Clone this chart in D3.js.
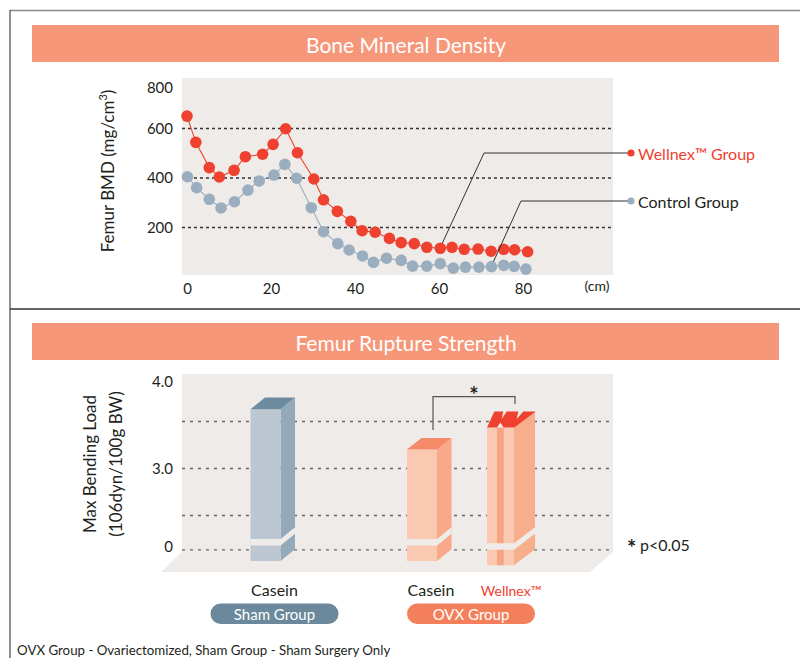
<!DOCTYPE html>
<html>
<head>
<meta charset="utf-8">
<script src="https://cdn.jsdelivr.net/npm/d3@7"></script>
<style>
    body { margin: 0; background: #fff; }
    svg { display: block; font-family: Lato, "Noto Sans", sans-serif; }
</style>
</head>
<body>
<svg id="chart" width="800" height="658"></svg>
<script>
// Bone mineral density along the femur (cm)
const wellnexCm = [0, 2.1, 5.3, 7.7, 11.2, 13.9, 18.0, 20.5, 23.5, 26.3, 30.2, 32.5, 35.8, 39.0, 41.7, 44.8, 48.2, 51.0, 54.1, 57.1, 60.3, 63.1, 66.0, 69.3, 72.4, 75.4, 78.0, 81.1];
const wellnexBmd = [648, 542, 440, 402, 429, 484, 494, 534, 597, 500, 394, 310, 263, 223, 185, 179, 154, 137, 133, 118, 114, 118, 110, 111, 102, 110, 108, 100];
const controlCm = [0.1, 2.3, 5.3, 8.1, 11.3, 14.5, 17.2, 20.7, 23.3, 26.1, 29.6, 32.5, 35.9, 38.6, 41.8, 44.4, 47.5, 51.0, 53.7, 57.1, 60.3, 63.4, 66.3, 69.5, 72.5, 75.4, 77.9, 80.7];
const controlBmd = [403, 359, 312, 277, 302, 349, 386, 410, 453, 397, 278, 181, 133, 107, 83, 57, 74, 65, 42, 42, 52, 34, 38, 38, 40, 45, 41, 30];
const bmdTicks = [200, 400, 600, 800];
const cmTicks = [0, 20, 40, 60, 80];

// Femur rupture strength
const barGroups = ["Sham Group", "OVX Group", "OVX Group"];
const barLabels = ["Casein", "Casein", "Wellnex™"];
const bendingLoad = [3.75, 3.32, 3.6];
const loadTicks = [0, 3, 4];
const loadGrid = [0, 2.5, 3, 3.5];

const RED = "#ee4130";
const GRAY = "#9aaebf";
const INK = "#231f20";
const BANNER = "#f7977a";
const PANEL = "#efebe8";

let svg = d3.select("#chart");

// frame lines
svg.append("line").attr("x1", 10).attr("x2", 800).attr("y1", 10.5).attr("y2", 10.5)
    .attr("stroke", "#8a8a8a").attr("stroke-width", 1.5);
svg.append("line").attr("x1", 10).attr("x2", 10).attr("y1", 10).attr("y2", 658)
    .attr("stroke", "#444").attr("stroke-width", 1.2);
svg.append("line").attr("x1", 10).attr("x2", 800).attr("y1", 309).attr("y2", 309)
    .attr("stroke", "#333").attr("stroke-width", 1.5);

function banner(y, label) {
    svg.append("rect").attr("x", 32).attr("y", y).attr("width", 747).attr("height", 37).attr("fill", BANNER);
    svg.append("text").attr("x", 406).attr("y", y + 19).attr("text-anchor", "middle")
        .attr("dominant-baseline", "central").attr("fill", "#fff").attr("font-size", 21)
        .text(label);
}
banner(25, "Bone Mineral Density");
banner(323, "Femur Rupture Strength");

// ---------- top chart: BMD ----------
let x = d3.scaleLinear().domain([0, 100]).range([187, 607]);
let y = d3.scaleLinear().domain([0, 800]).range([276.5, 78.5]);

svg.append("rect").attr("x", 182).attr("y", 78).attr("width", 431).attr("height", 197).attr("fill", PANEL);

let gridTop = svg.append("g").attr("transform", "translate(182,0)")
    .call(d3.axisLeft(y).tickValues([200, 400, 600]).tickSize(-431).tickFormat(""));
gridTop.select(".domain").remove();
gridTop.selectAll("line").attr("stroke", "#333").attr("stroke-width", 1.3).attr("stroke-dasharray", "3,3");

let yAxisTop = svg.append("g").attr("transform", "translate(175,0)")
    .call(d3.axisLeft(y).tickValues(bmdTicks).tickSize(0).tickPadding(2));
yAxisTop.select(".domain").remove();
yAxisTop.selectAll("text").attr("font-size", 15).attr("fill", INK).attr("font-family", "Lato")
    .attr("dy", d => d === 800 ? "0.95em" : "0.35em");

let xAxisTop = svg.append("g").attr("transform", "translate(0,283)")
    .call(d3.axisBottom(x).tickValues(cmTicks).tickSize(0).tickPadding(0));
xAxisTop.select(".domain").remove();
xAxisTop.selectAll("text").attr("font-size", 15).attr("fill", INK).attr("font-family", "Lato");

svg.append("text").attr("x", 597).attr("y", 291).attr("text-anchor", "middle")
    .attr("font-size", 14).attr("fill", INK).text("(cm)");

let yTitle = svg.append("text").attr("transform", "translate(114,171) rotate(-90)")
    .attr("text-anchor", "middle").attr("font-size", 17).attr("fill", INK);
yTitle.append("tspan").text("Femur BMD (mg/cm");
yTitle.append("tspan").attr("font-size", 11).attr("dy", -7).text("3");
yTitle.append("tspan").attr("dy", 7).text(")");

function drawSeries(xs, ys, color) {
    let pts = xs.map((d, i) => [d, ys[i]]);
    let line = d3.line().x(d => x(d[0])).y(d => y(d[1]));
    svg.append("path").datum(pts).attr("d", line).attr("fill", "none")
        .attr("stroke", color).attr("stroke-width", 1.1);
    svg.append("g").selectAll("circle").data(pts).join("circle")
        .attr("cx", d => x(d[0])).attr("cy", d => y(d[1])).attr("r", 5.8).attr("fill", color);
    return pts;
}
let controlPts = drawSeries(controlCm, controlBmd, GRAY);
let wellnexPts = drawSeries(wellnexCm, wellnexBmd, RED);

// leader lines to the legend
function leader(pt, legendY, elbowX, color, label, textColor) {
    let px = x(pt[0]) + 2, py = y(pt[1]) - 5;
    svg.append("path").attr("d", `M${px},${py}L${elbowX},${legendY}L630,${legendY}`)
        .attr("fill", "none").attr("stroke", "#333").attr("stroke-width", 1);
    svg.append("circle").attr("cx", 631).attr("cy", legendY).attr("r", 3.6).attr("fill", color);
    svg.append("text").attr("x", 638).attr("y", legendY).attr("dominant-baseline", "central")
        .attr("font-size", 16).attr("fill", textColor).text(label);
}
leader(wellnexPts[20], 153, 484, RED, "Wellnex™ Group", RED);
leader(controlPts[24], 201, 521, GRAY, "Control Group", INK);

// ---------- bottom chart: rupture strength ----------
let yb = d3.scaleLinear().domain([0, 2.3, 4]).range([549.3, 533.8, 374]);
let groupX = d3.scalePoint().domain(["Sham Group", "OVX Group"]).range([274.5, 471]);

function memberX(i) {
    let members = barLabels.filter((d, j) => barGroups[j] === barGroups[i]);
    let inner = d3.scalePoint().domain(members).range([-40, 40]);
    return groupX(barGroups[i]) + inner(barLabels[i]);
}

svg.append("path").attr("d", "M182,374H613V552L590,572H161L182,552Z").attr("fill", PANEL);

let gridBottom = svg.append("g").attr("transform", "translate(182,0)")
    .call(d3.axisLeft(yb).tickValues(loadGrid).tickSize(-431).tickFormat(""));
gridBottom.select(".domain").remove();
gridBottom.selectAll("line").attr("stroke", "#666").attr("stroke-width", 1.3).attr("stroke-dasharray", "3,5");

let yAxisBottom = svg.append("g").attr("transform", "translate(175,0)")
    .call(d3.axisLeft(yb).tickValues(loadTicks).tickSize(0).tickPadding(2)
        .tickFormat(d => d === 0 ? "0" : d3.format(".1f")(d)));
yAxisBottom.select(".domain").remove();
yAxisBottom.selectAll("text").attr("font-size", 15).attr("fill", INK).attr("font-family", "Lato")
    .attr("dy", d => d === 4 ? "0.85em" : d === 0 ? "0.15em" : "0.35em");

svg.append("text").attr("transform", "translate(96,464) rotate(-90)").attr("text-anchor", "middle")
    .attr("font-size", 17).attr("fill", INK).text("Max Bending Load");
svg.append("text").attr("transform", "translate(122,464) rotate(-90)").attr("text-anchor", "middle")
    .attr("font-size", 17).attr("fill", INK).text("(106dyn/100g BW)");

const barStyles = [
    { front: "#bcc7d1", side: "#94a9ba", top: "#6c8aa0" },
    { front: "#fbc9b2", side: "#f7a98a", top: "#f58a68" },
    { front: "#fbc9b2", side: "#f7ae8d", top: RED }
];
let bars = svg.append("g");
let base = yb(0), brk = yb(2.3);

bendingLoad.forEach((v, i) => {
    let st = barStyles[i];
    let isW = i === 2;
    let dx = isW ? 21 : 14.5, dy = isW ? 16 : 11.7;
    let w = isW ? 27 : 30;
    let fx = memberX(i) - 24;
    let top = yb(v) + dy, bot = base + dy;
    let g = bars.append("g");
    // side face
    g.append("path").attr("d", `M${fx + w},${top}L${fx + w + dx},${top - dy}L${fx + w + dx},${bot - dy}L${fx + w},${bot}Z`)
        .attr("fill", st.side);
    if (isW) {
        // two strips with a darker gap
        g.append("rect").attr("x", fx + 10).attr("y", top).attr("width", 7).attr("height", bot - top).attr("fill", "#f5a584");
        g.append("rect").attr("x", fx).attr("y", top).attr("width", 10).attr("height", bot - top).attr("fill", st.front);
        g.append("rect").attr("x", fx + 16.7).attr("y", top).attr("width", w - 16.7).attr("height", bot - top).attr("fill", st.front);
        let wPts = [[0, 0], [7.3, -16], [16.3, -16], [14.7, -8.7], [19.7, -16], [31.3, -16], [29.7, -8.7],
            [36.3, -16], [48.7, -16], [27.3, 0], [16.7, 0], [13.3, -5], [10, 0]];
        g.append("path").attr("d", d3.line()(wPts.map(p => [fx + p[0], top + p[1]])) + "Z").attr("fill", st.top);
    } else {
        g.append("rect").attr("x", fx).attr("y", top).attr("width", w).attr("height", bot - top).attr("fill", st.front);
        g.append("path").attr("d", `M${fx},${top}L${fx + dx},${top - dy}L${fx + w + dx},${top - dy}L${fx + w},${top}Z`)
            .attr("fill", st.top);
    }
    // axis break band
    let b0 = brk + dy, b1 = brk + dy - 6.5;
    g.append("path").attr("d", `M${fx},${b0}L${fx + w},${b0}L${fx + w + dx},${b0 - dy}L${fx + w + dx},${b1 - dy}L${fx + w},${b1}L${fx},${b1}Z`)
        .attr("fill", PANEL);
});

// significance bracket
let lx = memberX(1) + 2, rx = memberX(2) + 4;
let bracketTop = yb(d3.max(bendingLoad.slice(1))) - 15;
svg.append("path").attr("d", `M${lx},${yb(bendingLoad[1]) - 8}V${bracketTop}H${rx}V${yb(bendingLoad[2]) - 7.5}`)
    .attr("fill", "none").attr("stroke", "#555").attr("stroke-width", 1.2);
svg.append("text").attr("x", (lx + rx) / 2).attr("y", bracketTop + 6).attr("text-anchor", "middle")
    .attr("font-size", 22).attr("font-weight", "bold").attr("fill", INK).text("*");

svg.append("text").attr("x", 627).attr("y", 556).attr("font-size", 22).attr("font-weight", "bold")
    .attr("fill", INK).text("*");
svg.append("text").attr("x", 640).attr("y", 551).attr("font-size", 16).attr("fill", INK).text("p<0.05");

// category labels and group pills
svg.append("g").selectAll("text").data(barLabels).join("text")
    .attr("x", (d, i) => memberX(i)).attr("y", 596).attr("text-anchor", "middle")
    .attr("font-size", (d, i) => i === 2 ? 14 : 16)
    .attr("fill", (d, i) => i === 2 ? RED : INK).text(d => d);

const pillColors = { "Sham Group": "#6b889c", "OVX Group": "#f47f5b" };
let pills = svg.append("g").selectAll("g").data(groupX.domain()).join("g");
pills.append("rect").attr("x", d => groupX(d) - 64).attr("y", 603.5).attr("width", 128).attr("height", 20.5)
    .attr("rx", 10.25).attr("fill", d => pillColors[d]);
pills.append("text").attr("x", d => groupX(d)).attr("y", 614).attr("text-anchor", "middle")
    .attr("dominant-baseline", "central").attr("font-size", 15).attr("fill", "#fff").text(d => d);

svg.append("text").attr("x", 17).attr("y", 655).attr("font-size", 13.3).attr("fill", INK)
    .text("OVX Group - Ovariectomized, Sham Group - Sham Surgery Only");
</script>
</body>
</html>
